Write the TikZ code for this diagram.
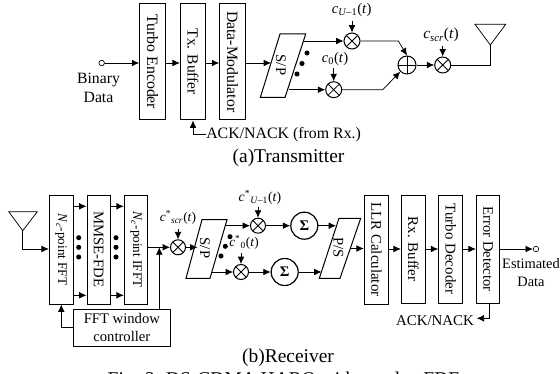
\documentclass[tikz,border=0pt]{standalone}
\usepackage{fontspec}
\usepackage{graphicx}
\setmainfont{Liberation Serif}
\usetikzlibrary{arrows.meta,calc}
\newcommand{\Rot}[1]{\rotatebox{-90}{#1}}
\newcommand{\fs}[1]{\fontsize{#1}{13.5}\selectfont}
\newcommand{\Nc}{\textit{N}\textsubscript{\textit{c}}}
\newcommand{\Blk}[7]{\node[blk,minimum width=#4*0.75pt,minimum height=#5*0.75pt] (#1) at (#2,#3) {\Rot{\fs{#6}#7}};}
\newcommand{\Dots}[3]{\fill (#1) circle (1.9pt); \fill (#2) circle (1.9pt); \fill (#3) circle (1.9pt);}
\tikzset{
  blk/.style={draw,line width=0.75pt,inner sep=0pt},
  lbl/.style={inner sep=0pt,font=\fs{11},align=center},
  captxt/.style={inner sep=0pt,font=\fs{14.6}},
  arr/.style={line width=0.55pt,-{Latex[length=5.5pt,width=5pt]}},
  wire/.style={line width=0.55pt},
  mult/.style={circle,draw,line width=0.75pt,minimum size=#1*0.75pt,inner sep=0pt,
    path picture={\draw[line width=0.6pt] (path picture bounding box.north west)--(path picture bounding box.south east)
      (path picture bounding box.north east)--(path picture bounding box.south west);}},
  addr/.style={circle,draw,line width=0.75pt,minimum size=18*0.75pt,inner sep=0pt,
    path picture={\draw[line width=0.6pt] (path picture bounding box.north)--(path picture bounding box.south)
      (path picture bounding box.east)--(path picture bounding box.west);}},
  sigm/.style={circle,draw,line width=0.9pt,minimum size=27*0.75pt,inner sep=0pt,font=\fontsize{11}{12}\selectfont\bfseries},
  term/.style={circle,draw,line width=0.5pt,minimum size=5.5*0.75pt,inner sep=0pt},
  poly/.style={draw,line width=0.75pt,line join=miter},
  ant/.style={draw,line width=0.55pt},
}
\begin{document}
\begin{tikzpicture}[x=0.75pt,y=-0.75pt]
\fill[white] (0,0) rectangle (560,374);
\useasboundingbox (0,0) rectangle (560,374);
\begin{scope}
\clip (0,0) rectangle (560,374);
% ---------- Transmitter ----------
\node[term] (bin) at (101.7,63) {};
\node[lbl,font=\fs{11.8}] (bindata) at (98.5,88) {Binary\\[1pt]Data};
\Blk{te}{152.5}{61.75}{25.6}{116.5}{11.9}{Turbo Encoder}
\Blk{tx}{193}{61.75}{25.4}{116.5}{11.6}{Tx. Buffer}
\Blk{dm}{232.5}{61.75}{25.6}{116.5}{11.8}{Data-Modulator}
\node[inner sep=0pt] (sp1) at (281,65) {\Rot{\fs{11}S/P}};
\draw[poly] (280,34)--(305.7,34)--(285,97.5)--(260.3,97.5)--cycle;
\coordinate (sp1w) at (271,63);
\draw[arr] (bin) -- (te.west |- bin);
\draw[arr] (te.east |- bin) -- (tx.west |- bin);
\draw[arr] (tx.east |- bin) -- (dm.west |- bin);
\draw[arr] (dm.east |- bin) -- (sp1w);
\Dots{307,53}{302,63.5}{297,74}
\node[mult=16] (mu) at (352,41) {};
\node[mult=16] (m0) at (333.7,89.7) {};
\node[addr] (sum) at (407,65) {};
\node[mult=16] (ms) at (442.7,65) {};
\coordinate (sp1t) at (303.5,41);
\coordinate (sp1b) at (288.5,89.7);
\draw[arr] (sp1t) -- (mu);
\draw[arr] (sp1b) -- (m0);
\coordinate (k1) at (398.3,41);
\coordinate (k0) at (382.7,89.7);
\draw[arr] (mu) -- (k1) -- (sum.north);
\draw[arr] (m0) -- (k0) -- (sum.south west);
\draw[arr] (sum) -- (ms);
\coordinate (a1) at (475,24.3);
\coordinate (a2) at (505.7,24.3);
\coordinate (a3) at (490.3,45);
\coordinate (a4) at (490.3,65);
\draw[ant] (a1)--(a2)--(a3)--cycle;
\draw[wire] (ms)--(a4)--(a3);
\node[lbl] (cu) at (351.7,10) {\textit{c}\textsubscript{\textit{U}–1}(\textit{t})};
\node[lbl] (c0) at (335,59) {\textit{c}\textsubscript{0}(\textit{t})};
\node[lbl,font=\fs{11.5}] (cs) at (441,35) {\textit{c}\textsubscript{\textit{scr}}(\textit{t})};
\draw[arr] (mu |- 0,21) -- (mu);
\draw[arr] (m0 |- 0,68) -- (m0);
\draw[arr] (ms |- 0,46) -- (ms);
\node[lbl,anchor=west,font=\fs{11.9}] (ack) at (206,134.5) {ACK/NACK (from Rx.)};
\coordinate (ackc) at (tx.south |- ack);
\draw[arr] (ack.west) -- (ackc) -- (tx.south);
\node[captxt] (capa) at (288.5,158) {(a)Transmitter};
% ---------- Receiver ----------
\coordinate (b1) at (8.7,211.7);
\coordinate (b2) at (37.3,211.7);
\coordinate (b3) at (22.7,230.7);
\coordinate (b4) at (22.7,249);
\draw[ant] (b1)--(b2)--(b3)--cycle;
\Blk{fft}{61.2}{249.5}{23.8}{109}{9.9}{\Nc-point FFT}
\Blk{fde}{98.7}{249.5}{23.4}{109}{11}{MMSE-FDE}
\Blk{ifft}{136}{249.5}{23.4}{109}{9.9}{\Nc-point IFFT}
\draw[arr] (b3)--(b4)--(fft.west |- b4);
\foreach \yy in {206.3,295.3}{
  \draw[arr] (fft.east |- 0,\yy) -- (fde.west |- 0,\yy);
  \draw[arr] (fde.east |- 0,\yy) -- (ifft.west |- 0,\yy);
}
\Dots{78.7,237.7}{78.7,247.3}{78.7,257}
\Dots{116,237.7}{116,247.3}{116,257}
\node[mult=15] (rs) at (178,247.3) {};
\node[draw,line width=0.75pt,minimum width=97.7*0.75pt,minimum height=36.3*0.75pt,lbl] (win) at (121.85,327.85) {FFT window\\controller};
\draw[arr] (ifft.east |- rs) -- (rs);
\coordinate (j) at (159.3,247.3);
\draw[arr] (win.north -| j) -- (j);
\coordinate (wl) at (61.3,327.7);
\draw[arr] (win.west |- wl) -- (wl) -- (fft.south -| wl);
\node[lbl,font=\fs{10}] (crs) at (178,217.5) {\textit{c}\textsuperscript{*}\textsubscript{\textit{scr}}(\textit{t})};
\draw[arr] (rs |- 0,229) -- (rs);
\node[inner sep=0pt] (sp2) at (205,248) {\Rot{\fs{11}S/P}};
\draw[poly] (202,219.7)--(227,219.7)--(210,278.3)--(186,278.3)--cycle;
\coordinate (sp2w) at (197.5,247.3);
\draw[arr] (rs) -- (sp2w);
\node[mult=15] (ru) at (258,225.7) {};
\node[mult=15] (r0) at (241,272) {};
\node[sigm] (su) at (304.3,225.7) {Σ};
\node[sigm] (s0) at (284.7,272) {Σ};
\coordinate (sp2t) at (225,225.7);
\coordinate (sp2b) at (211.5,272);
\draw[arr] (sp2t) -- (ru);
\draw[arr] (sp2b) -- (r0);
\draw[arr] (ru) -- (su);
\draw[arr] (r0) -- (s0);
\Dots{230,236.7}{225.3,246.3}{221,256}
\node[lbl,font=\fs{10.3}] (cru) at (260,197) {\textit{c}\textsuperscript{*}\textsubscript{\textit{U}–1}(\textit{t})};
\node[lbl,font=\fs{10}] (cr0) at (244,242) {\textit{c}\textsuperscript{*}\textsubscript{0}(\textit{t})};
\draw[arr] (ru |- 0,206.7) -- (ru);
\draw[arr] (r0 |- 0,253) -- (r0);
\node[inner sep=0pt] (ps) at (338.3,247.7) {\Rot{\fs{11}P/S}};
\draw[poly] (339,218.3)--(360.7,218.3)--(340,278.3)--(319.3,278.3)--cycle;
\coordinate (pst) at (336,225.7);
\coordinate (psb) at (321.5,272);
\coordinate (pse) at (350.5,248.5);
\draw[arr] (su) -- (pst);
\draw[arr] (s0) -- (psb);
\Blk{llr}{376.5}{249.5}{24.4}{109}{11.2}{LLR Calculator}
\Blk{rb}{413.3}{249}{24}{108}{11.2}{Rx. Buffer}
\Blk{td}{450.7}{249}{24}{108}{11.2}{Turbo Decoder}
\Blk{ed}{488}{249}{23.4}{108}{10.9}{Error Detector}
\draw[arr] (pse) -- (llr.west |- pse);
\draw[arr] (llr.east |- rb) -- (rb.west);
\draw[arr] (rb) -- (td);
\draw[arr] (td) -- (ed);
\node[term] (est) at (536,249) {};
\draw[arr] (ed) -- (est);
\node[lbl,font=\fs{10.8}] (estd) at (531,272.8) {Estimated\\Data};
\node[lbl,font=\fs{11.2}] (rack) at (435,321) {ACK/NACK};
\coordinate (ec) at (489.7,318.3);
\coordinate (ee) at (476.7,318.3);
\draw[arr] (ed.south -| ec) -- (ec) -- (ee);
\node[captxt] (capb) at (288,358) {(b)Receiver};
\node[captxt,anchor=base] (fig) at (284,385) {Fig. 2. DS-CDMA HARQ with overlap FDE};
\end{scope}
\end{tikzpicture}
\end{document}
